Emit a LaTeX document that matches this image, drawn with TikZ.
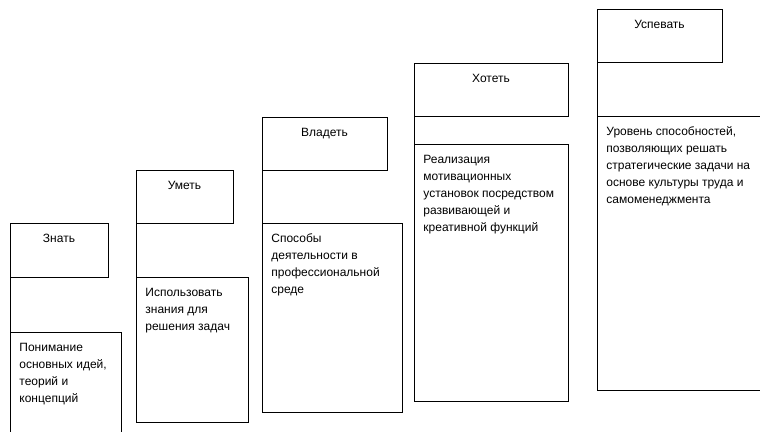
\documentclass[tikz,border=0pt]{standalone}
\usepackage{fontspec}
\setmainfont{Liberation Sans}

\begin{document}
\begin{tikzpicture}[x=1pt,y=-1pt,line width=0.8pt,
  box/.style={draw,rectangle,inner sep=0pt,outer sep=0pt,anchor=north west},
  lbl/.style={font=\fontsize{12}{17}\selectfont,inner sep=0pt},
  desc/.style={font=\fontsize{12}{17}\selectfont,align=left,inner sep=0pt}]
\clip (0,0) rectangle (760,431);
\useasboundingbox (0,0) rectangle (760,431);
% columns: left, right of top box, right of lower box, top, bottom, lower top, lower bottom
\foreach \i/\xl/\xa/\xb/\ya/\yb/\yc/\yd/\name/\desc in {
  1/10/108/121/223/277/332/440/{Знать}/{Понимание\\основных идей,\\теорий и\\концепций},
  2/136/233/248/170/223/277/422/{Уметь}/{Использовать\\знания для\\решения задач},
  3/262/387/402/117/170/223/412/{Владеть}/{Способы\\деятельности в\\профессиональной\\среде},
  4/414/568/568/63/116/144/401/{Хотеть}/{Реализация\\мотивационных\\установок посредством\\развивающей и\\креативной функций},
  5/597/722/765/9/62/116/390/{Успевать}/{Уровень способностей,\\позволяющих решать\\стратегические задачи на\\основе культуры труда и\\самоменеджмента}} {
	\node[box,minimum width={\xa-\xl},minimum height={\yb-\ya}] (top\i) at (\xl,\ya) {};
	\node[box,minimum width={\xb-\xl},minimum height={\yd-\yc}] (low\i) at (\xl,\yc) {};
	\draw (top\i.south west) -- (low\i.north west);
	\node[lbl,anchor=base] (lbl\i) at ({(\xl+\xa)/2},\ya+19) {\name};
	\node[desc,anchor=north west] (txt\i) at (\xl+9,\yc+10.5) {\desc};
}
\end{tikzpicture}
\end{document}
